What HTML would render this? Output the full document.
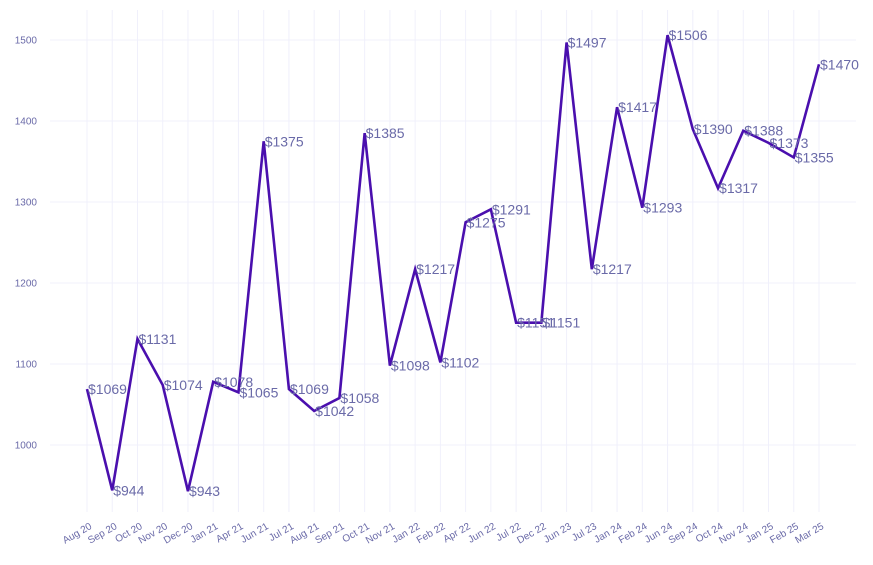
<!DOCTYPE html>
<html><head><meta charset="utf-8"><style>
body{margin:0;background:#fff;}
svg{display:block;font-family:"Liberation Sans",sans-serif;}
</style></head><body>
<svg id="chart" width="873" height="565" viewBox="0 0 873 565">
<g id="grid"></g>
<g id="yaxis"></g>
<g id="xaxis"></g>
<g id="series"></g>
<g id="labels"></g>
</svg>
<script>
const categories=["Aug 20","Sep 20","Oct 20","Nov 20","Dec 20","Jan 21","Apr 21","Jun 21","Jul 21","Aug 21","Sep 21","Oct 21","Nov 21","Jan 22","Feb 22","Apr 22","Jun 22","Jul 22","Dec 22","Jun 23","Jul 23","Jan 24","Feb 24","Jun 24","Sep 24","Oct 24","Nov 24","Jan 25","Feb 25","Mar 25"];
const prices=[1069,944,1131,1074,943,1078,1065,1375,1069,1042,1058,1385,1098,1217,1102,1275,1291,1151,1151,1497,1217,1417,1293,1506,1390,1317,1388,1373,1355,1470];
const yTicks=[1000,1100,1200,1300,1400,1500];
const NS="http://www.w3.org/2000/svg";
const x0=87,x1=819;
function xs(i){return x0+(x1-x0)*i/(categories.length-1);}
function ys(v){return 445-(v-1000)*0.81;}
function mk(tag,attrs,parent){const e=document.createElementNS(NS,tag);for(const k in attrs)e.setAttribute(k,attrs[k]);parent.appendChild(e);return e;}
const grid=document.getElementById('grid'),ya=document.getElementById('yaxis'),xa=document.getElementById('xaxis'),se=document.getElementById('series'),lb=document.getElementById('labels');
yTicks.forEach(t=>{
  const l=mk('line',{x1:50,x2:856,y1:ys(t),y2:ys(t),stroke:'#f0f0fb','stroke-width':1},grid);
  
  
  const tx=mk('text',{x:37,y:ys(t)+3.5,'text-anchor':'end','font-size':10,fill:'#6a6aa8'},ya);
  tx.textContent=t;
  
  
});
categories.forEach((c,i)=>{
  const l=mk('line',{x1:xs(i),x2:xs(i),y1:10,y2:512,stroke:'#f0f0fb','stroke-width':1},grid);
  
  
  const tx=mk('text',{x:xs(i)+2,y:522,'text-anchor':'end','font-size':10,fill:'#6a6aa8',transform:`rotate(-30 ${xs(i)+2} 522)`,dy:'0.7em'},xa);
  tx.textContent=c;
  
  
});
const pts=prices.map((v,i)=>xs(i)+','+ys(v)).join(' ');
const pl=mk('polyline',{points:pts,fill:'none',stroke:'#4a0fae','stroke-width':2.6,'stroke-linejoin':'miter'},se);


prices.forEach((v,i)=>{
  const tx=mk('text',{x:xs(i)+1,y:ys(v)+5,'font-size':14,fill:'#6a6aa8'},lb);
  tx.textContent='$'+v;
  
  
});
</script>
</body></html>
